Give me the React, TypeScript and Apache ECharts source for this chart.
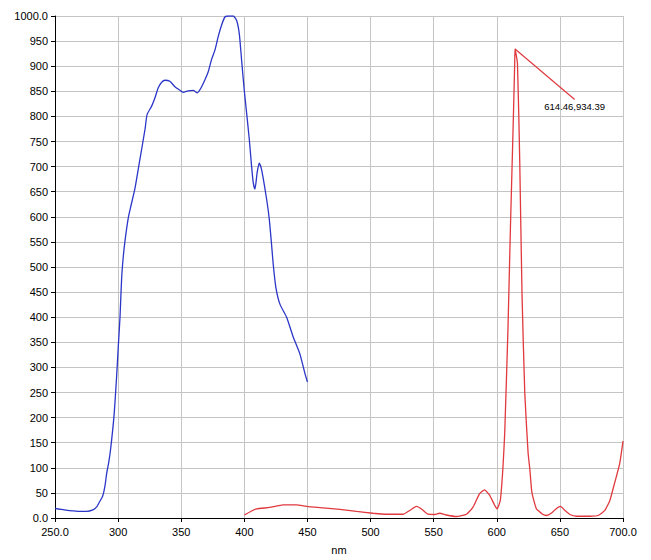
import React, { useEffect, useRef } from "react";
import * as echarts from "echarts";

const blueX = [250, 255, 260, 265, 270, 275, 280, 283, 285, 287.8, 289.6, 291, 292.5, 294, 296.7, 298.8, 300.1, 301.5, 302.8, 304, 305.4, 308, 310, 313.3, 317.3, 321.3, 323, 326.5, 329.2, 331.8, 334.5, 337.1, 341, 345, 349, 351.6, 355.5, 359.5, 362.7, 365.3, 368.8, 371.4, 374, 376.7, 379.3, 382, 384.6, 387.2, 391.2, 393.9, 396, 397.8, 399.9, 401.8, 403.9, 405.7, 407, 408.4, 410.2, 411.8, 413.4, 415, 417.6, 419.7, 421.6, 422.9, 425, 428.2, 433.5, 438.8, 444, 448, 450];
const blueY = [19, 17, 15, 14, 13, 13, 16, 22, 31, 44, 64, 90, 110, 136, 202, 281, 340, 400, 478, 518, 551, 597, 620, 656, 715, 774, 804, 820, 837, 857, 868, 872, 870, 859, 852, 848, 851, 852, 847, 855, 873, 889, 913, 932, 959, 982, 998, 1000, 1000, 991, 965, 913, 853, 807, 755, 702, 669, 655, 689, 707, 697, 676, 636, 597, 544, 505, 459, 426, 400, 360, 327, 288, 271];

const redX = [400, 405, 409.7, 420, 430.8, 441.4, 449.3, 462.5, 475.7, 488.9, 502, 512.6, 525.8, 531, 536.3, 540.3, 545.5, 550.9, 554.8, 560.1, 568, 576, 581, 586.3, 590.3, 594.2, 598.2, 600.2, 602.8, 604.8, 606.3, 608.9, 610.8, 612.9, 614.2, 614.46, 616.4, 618.2, 620, 622.2, 624.8, 626.2, 627.6, 628.8, 631.4, 632.8, 636, 639.4, 643.4, 647.3, 650.5, 654, 657.9, 663.2, 673.7, 680.3, 685.6, 689.6, 693.5, 697.5, 700];
const redY = [6, 13, 18, 21, 26, 26, 23, 20, 17, 13, 9.5, 7.5, 7.5, 15, 23, 18, 7.5, 7, 9.5, 6, 3, 7.5, 21, 48, 56, 46, 26, 18, 35, 97, 170, 380, 577, 774, 905, 934.39, 905, 709, 445, 248, 130, 97, 55, 40, 18, 15, 8, 5, 10, 19, 23, 15, 7, 3.5, 3.5, 5, 15, 35, 71, 110, 153];

const peak = [614.46, 934.39];
const peakLabelAt = [661.7, 833.7];
const peakLabel = "614.46,934.39";

const xMin = 250, xMax = 700, xStep = 50;
const yMin = 0, yMax = 1000, yStep = 50;

export default function App() {
  const ref = useRef<HTMLDivElement>(null);
  useEffect(() => {
    document.body.style.margin = "0";
    const chart = echarts.init(ref.current!, null, { renderer: "svg" });
    const font = "'Liberation Sans', Arial, sans-serif";
    chart.setOption({
      animation: false,
      backgroundColor: "#ffffff",
      grid: { left: 55, right: 28, top: 16, bottom: 37.5, containLabel: false },
      xAxis: {
        type: "value",
        min: xMin,
        max: xMax,
        interval: xStep,
        name: "nm",
        nameLocation: "middle",
        nameGap: 26,
        nameTextStyle: { color: "#000", fontSize: 11, fontFamily: font },
        axisLine: { show: true, lineStyle: { color: "#000", width: 1 } },
        axisTick: { show: true, length: 4, lineStyle: { color: "#000" } },
        axisLabel: {
          color: "#000",
          fontSize: 11,
          fontFamily: font,
          margin: 8,
          formatter: (v: number) => (v === xMin || v === xMax ? v.toFixed(1) : String(v)),
        },
        splitLine: { show: true, lineStyle: { color: "#c4c4c4", width: 1 } },
      },
      yAxis: {
        type: "value",
        min: yMin,
        max: yMax,
        interval: yStep,
        axisLine: { show: true, lineStyle: { color: "#000", width: 1 } },
        axisTick: { show: true, length: 4, lineStyle: { color: "#000" } },
        axisLabel: {
          color: "#000",
          fontSize: 11,
          fontFamily: font,
          margin: 7,
          formatter: (v: number) => (v === yMin || v === yMax ? v.toFixed(1) : String(v)),
        },
        splitLine: { show: true, lineStyle: { color: "#c4c4c4", width: 1 } },
      },
      series: [
        {
          type: "line",
          data: blueX.map((x, i) => [x, blueY[i]]),
          showSymbol: false,
          smooth: 0.2,
          lineStyle: { color: "#2b36c8", width: 1.3 },
          itemStyle: { color: "#2b36c8" },
        },
        {
          type: "line",
          data: redX.map((x, i) => [x, redY[i]]),
          showSymbol: false,
          smooth: 0.15,
          lineStyle: { color: "#e0393e", width: 1.3 },
          itemStyle: { color: "#e0393e" },
          markLine: {
            silent: true,
            symbol: ["none", "none"],
            label: { show: false },
            lineStyle: { color: "#e0393e", width: 1.2, type: "solid" },
            data: [[{ coord: peak }, { coord: peakLabelAt }]],
          },
          markPoint: {
            silent: true,
            symbol: "circle",
            symbolSize: 0,
            data: [{ coord: peakLabelAt }],
            label: {
              show: true,
              position: "bottom",
              distance: 2,
              formatter: peakLabel,
              color: "#000",
              fontSize: 9.5,
              fontFamily: font,
            },
          },
        },
      ],
    });
    return () => chart.dispose();
  }, []);
  return <div ref={ref} style={{ position: "fixed", left: 0, top: 0, width: 651, height: 560 }} />;
}
